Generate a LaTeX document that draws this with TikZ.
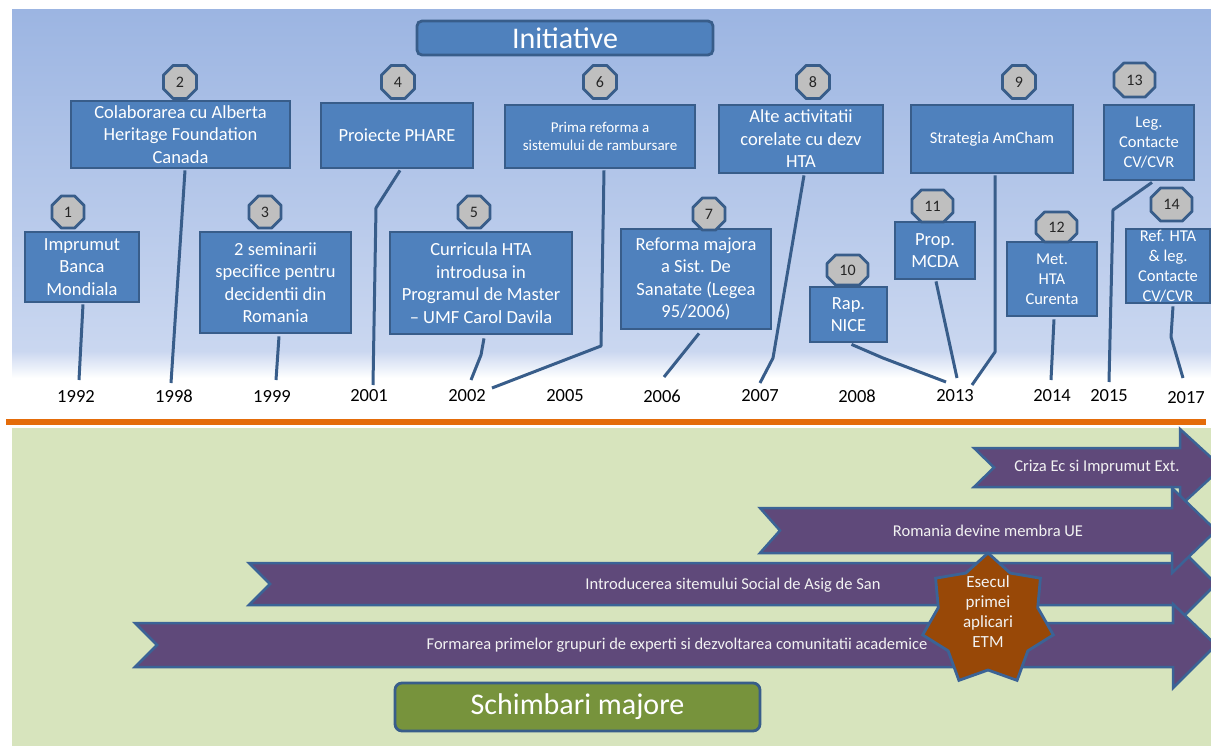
\documentclass[tikz,border=0pt]{standalone}
\usepackage{fontspec}
\setmainfont{Carlito}
\usetikzlibrary{calc}
\definecolor{boxfill}{HTML}{4F81BD}
\definecolor{boxline}{HTML}{385D8A}
\definecolor{octfill}{HTML}{BFBFBF}
\definecolor{topA}{HTML}{9CB5E2}
\definecolor{topB}{HTML}{CAD7F0}
\definecolor{greenbg}{HTML}{D7E4BD}
\definecolor{orangeln}{HTML}{E46C0A}
\definecolor{arrfill}{HTML}{5F497A}
\definecolor{arrline}{HTML}{3B6396}
\definecolor{starfill}{HTML}{984807}
\definecolor{greenbox}{HTML}{77933C}
\newcommand\octnode[6]{%
  \filldraw[octst] ({#2-#4/2},{#3-#5/2+0.29*#5}) -- ({#2-#4/2+0.29*#5},{#3-#5/2}) -- ({#2+#4/2-0.29*#5},{#3-#5/2}) -- ({#2+#4/2},{#3-#5/2+0.29*#5}) -- ({#2+#4/2},{#3+#5/2-0.29*#5}) -- ({#2+#4/2-0.29*#5},{#3+#5/2}) -- ({#2-#4/2+0.29*#5},{#3+#5/2}) -- ({#2-#4/2},{#3+#5/2-0.29*#5}) -- cycle;
  \node[octtxt] (#1) at (#2,#3) {#6};}
\begin{document}
\begin{tikzpicture}[x=1pt,y=-1pt,
  evbox/.style={draw=boxline, line width=2.8pt, fill=boxfill, text=white, align=center, inner sep=1pt, font=\fontsize{18.5}{22.5}\selectfont},
  smallbox/.style={evbox, font=\fontsize{16.5}{20}\selectfont},
  octst/.style={draw=boxline, fill=octfill, line width=2.8pt, line join=round},
  octtxt/.style={inner sep=0pt, text=black!85, font=\fontsize{16}{18}\selectfont},
  conn/.style={draw=boxline, line width=3pt, line join=round},
  yr/.style={inner sep=0pt, text=black, font=\fontsize{18.5}{20}\selectfont},
  arrst/.style={draw=arrline, fill=arrfill, line width=2.5pt, line join=miter},
  arrtxt/.style={inner sep=0pt, text=white!95!black, font=\fontsize{16.5}{20}\selectfont},
  starst/.style={draw=arrline, fill=starfill, line width=2.8pt, line join=miter},
  titlebox/.style={draw=boxline, line width=2.8pt, fill=boxfill, text=white, rounded corners=5pt, inner sep=0pt, font=\fontsize{30}{34}\selectfont}
]
\useasboundingbox (0,0) rectangle (1211,746);
\clip (0,0) rectangle (1211,746);
\fill[white] (0,0) rectangle (1211,746);
% panels
\shade[top color=topA, bottom color=topB] (12,10) rectangle (1211,352);
\shade[top color=topB, bottom color=white] (12,351) rectangle (1211,378);
\fill[greenbg] (12,428) rectangle (1211,746);
\draw[orangeln, line width=6pt] (6,421.5) -- (1206,421.5);

% title
\node[titlebox, minimum width=296pt, minimum height=34pt] (init) at (565,38) {Initiative};

% event boxes
\node[evbox, minimum width=114pt, minimum height=70pt] (b1) at (82,267) {Imprumut\\Banca\\Mondiala};
\node[evbox, minimum width=219pt, minimum height=67pt] (b2) at (180.5,134.5) {Colaborarea cu Alberta\\Heritage Foundation\\Canada};
\node[evbox, minimum width=151pt, minimum height=101pt] (b3) at (275.5,282.5) {2 seminarii\\specifice pentru\\decidentii din\\Romania};
\node[evbox, minimum width=152pt, minimum height=65pt] (b4) at (397,135.5) {Proiecte PHARE};
\node[evbox, minimum width=182pt, minimum height=102pt] (b5) at (481,283) {Curricula HTA\\introdusa in\\Programul de Master\\– UMF Carol Davila};
\node[evbox, minimum width=190pt, minimum height=63pt, font=\fontsize{15}{18}\selectfont] (b6) at (600,136.5) {Prima reforma a\\sistemului de rambursare};
\node[evbox, minimum width=150pt, minimum height=100pt] (b7) at (696,279) {Reforma majora\\a Sist. De\\Sanatate (Legea\\95/2006)};
\node[evbox, minimum width=164pt, minimum height=68pt] (b8) at (801,139) {Alte activitatii\\corelate cu dezv\\HTA};
\node[smallbox, minimum width=162pt, minimum height=68pt] (b9) at (992,139) {Strategia AmCham};
\node[evbox, minimum width=77pt, minimum height=55pt] (b10) at (848.5,314.5) {Rap.\\NICE};
\node[evbox, minimum width=80pt, minimum height=57pt] (b11) at (935,250.5) {Prop.\\MCDA};
\node[smallbox, minimum width=90pt, minimum height=74pt] (b12) at (1052,279) {Met.\\HTA\\Curenta};
\node[smallbox, minimum width=90pt, minimum height=75pt] (b13) at (1149,142.5) {Leg.\\Contacte\\CV/CVR};
\node[smallbox, minimum width=84pt, minimum height=74pt] (b14) at (1168,266) {Ref. HTA\\\& leg.\\Contacte\\CV/CVR};

% octagons
\octnode{o1}{68}{212}{32}{32}{1}
\octnode{o2}{180}{82}{33}{33}{2}
\octnode{o3}{265}{212}{32}{32}{3}
\octnode{o4}{398}{82}{33}{33}{4}
\octnode{o5}{474}{212}{32}{32}{5}
\octnode{o6}{600}{82}{33}{33}{6}
\octnode{o7}{709}{214}{32}{32}{7}
\octnode{o8}{813}{82}{33}{33}{8}
\octnode{o9}{1019}{82}{33}{33}{9}
\octnode{o10}{847.5}{270}{41}{30}{10}
\octnode{o11}{932.5}{206}{41}{32}{11}
\octnode{o12}{1056.5}{227}{41}{30}{12}
\octnode{o13}{1134.5}{80}{41}{34}{13}
\octnode{o14}{1171.5}{204.5}{41}{33}{14}

% years
\node[yr] (y1992) at (76,396) {1992};
\node[yr] (y1998) at (174,396) {1998};
\node[yr] (y1999) at (272,396) {1999};
\node[yr] (y2001) at (369,396) {2001};
\node[yr] (y2002) at (467,396) {2002};
\node[yr] (y2005) at (565,396) {2005};
\node[yr] (y2006) at (662,396) {2006};
\node[yr] (y2007) at (760,396) {2007};
\node[yr] (y2008) at (857,396) {2008};
\node[yr] (y2013) at (955,396) {2013};
\node[yr] (y2014) at (1052,396) {2014};
\node[yr] (y2015) at (1109,396) {2015};
\node[yr] (y2017) at (1186,398) {2017};

% connector ends
\coordinate (e1) at (79,380);
\coordinate (e2) at (171,383);
\coordinate (e3) at (276,380);
\coordinate (e4a) at (376,208); \coordinate (e4) at (373,385);
\coordinate (e5a) at (481,355); \coordinate (e5) at (471,380);
\coordinate (e6a) at (601,346); \coordinate (e6) at (492,388);
\coordinate (e7) at (664,377);
\coordinate (e8a) at (773,358); \coordinate (e8) at (760,383);
\coordinate (e9a) at (995,352); \coordinate (e9) at (972,385);
\coordinate (e10a) at (883,358); \coordinate (e10) at (946,382);
\coordinate (e11) at (957,378);
\coordinate (e12) at (1051,380);
\coordinate (e13a) at (1113,210); \coordinate (e13) at (1109,382);
\coordinate (e14a) at (1171,337); \coordinate (e14) at (1183,378);

\draw[conn] ([xshift=1pt,yshift=-1pt]b1.south) -- (e1);
\draw[conn] ([xshift=4.5pt,yshift=-1pt]b2.south) -- (e2);
\draw[conn] ([xshift=3.5pt,yshift=-2pt]b3.south) -- (e3);
\draw[conn] ([xshift=3pt,yshift=-1pt]b4.south) -- (e4a) -- (e4);
\draw[conn] ([xshift=3pt,yshift=-3pt]b5.south) -- (e5a) -- (e5);
\draw[conn] ([xshift=4pt,yshift=-1pt]b6.south) -- (e6a) -- (e6);
\draw[conn] ([xshift=3pt,yshift=-3pt]b7.south) -- (e7);
\draw[conn] ([xshift=3pt,yshift=-1pt]b8.south) -- (e8a) -- (e8);
\draw[conn] ([xshift=3pt,yshift=-1pt]b9.south) -- (e9a) -- (e9);
\draw[conn] ([xshift=3pt,yshift=-1pt]b10.south) -- (e10a) -- (e10);
\draw[conn] ([xshift=1pt,yshift=-1pt]b11.south) -- (e11);
\draw[conn] ([xshift=2pt,yshift=-2pt]b12.south) -- (e12);
\draw[conn] ([xshift=3pt,yshift=-1pt]b13.south) -- (e13a) -- (e13);
\draw[conn] ([xshift=5pt,yshift=-2pt]b14.south) -- (e14a) -- (e14);

% arrows (bottom)
\draw[arrst] (249,563) -- (1173,563) -- (1173,541) -- (1216,584) -- (1173,627) -- (1173,605) -- (249,605) -- (270,584) -- cycle;
\draw[arrst] (135,623) -- (1173,623) -- (1173,604) -- (1216,645) -- (1173,688) -- (1173,667) -- (135,667) -- (157,645) -- cycle;
\draw[arrst] (974,448) -- (1180,448) -- (1180,429) -- (1222,467.5) -- (1180,506) -- (1180,487) -- (974,487) -- (994,467.5) -- cycle;
\draw[arrst] (760,508) -- (1172,508) -- (1172,488) -- (1216,530.5) -- (1172,573) -- (1172,553) -- (760,553) -- (780,530.5) -- cycle;

\node[arrtxt] (tA) at (1097,467) {Criza Ec si Imprumut Ext.};
\node[arrtxt] (tB) at (988,531) {Romania devine membra UE};
\node[arrtxt] (tC) at (733,585) {Introducerea sitemului Social de Asig de San};
\node[arrtxt] (tD) at (677,645) {Formarea primelor grupuri de experti si dezvoltarea comunitatii academice};

% star
\draw[starst] (988,553) \foreach \k in {0,...,6} { -- ({988+51*cos(90+\k*360/7+180/7)},{619-51*sin(90+\k*360/7+180/7)}) -- ({988+67*cos(90+(\k+1)*360/7)},{620-67*sin(90+(\k+1)*360/7)}) } -- cycle;
\node[arrtxt, align=center, font=\fontsize{17}{20}\selectfont] (star) at (988,612) {Esecul\\primei\\aplicari\\ETM};

% bottom title
\node[titlebox, fill=greenbox, rounded corners=7pt, minimum width=365pt, minimum height=48pt] (sch) at (577.5,707) {Schimbari majore};
\end{tikzpicture}
\end{document}
